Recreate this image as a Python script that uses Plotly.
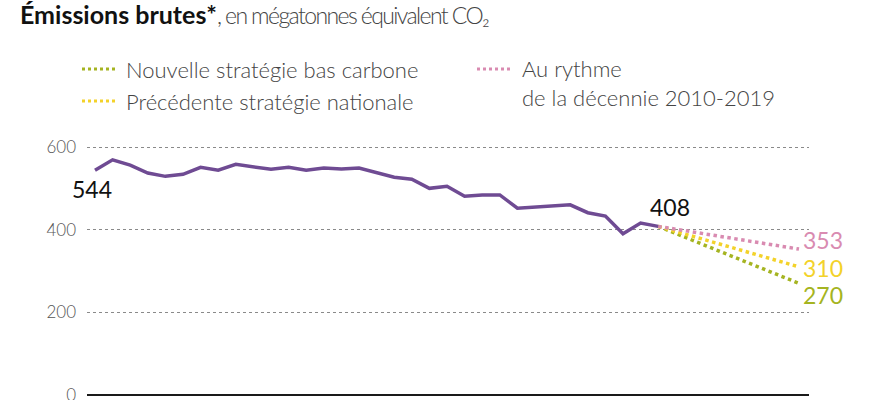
import plotly.graph_objects as go

# ---------------- data ----------------
years = list(range(1990, 2023))
emissions = [544, 569, 556, 537, 529, 534, 551, 544, 558, 551, 546, 551,
             544, 549, 547, 549, 537, 527, 522, 500, 505, 481, 484, 484,
             452, 455, 457, 460, 441, 433, 390, 416, 408]

proj_years = [2022, 2030]
proj_nouvelle = [408, 270]
proj_precedente = [408, 310]
proj_rythme = [408, 353]

legend_labels = ["Nouvelle stratégie bas carbone",
                 "Précédente stratégie nationale",
                 "Au rythme<br>de la décennie 2010-2019"]
y_ticks = [0, 200, 400, 600]

# ---------------- styles ----------------
FONT = "Lato"
PURPLE = "#6f4b93"
PINK = "#d98bb1"
YELLOW = "#f3d22a"
OLIVE = "#a5b421"

W, H = 883, 400
L, R, T, B = 87, 74, 130, 0
PW, PH = W - L - R, H - T - B


def px(x):
    return (x - L) / PW


def py(y):
    return (H - B - y) / PH


fig = go.Figure()

fig.add_trace(go.Scatter(x=proj_years, y=proj_nouvelle, mode="lines",
                         line=dict(color=OLIVE, width=3.5, dash="dot"),
                         showlegend=False, hoverinfo="skip"))
fig.add_trace(go.Scatter(x=proj_years, y=proj_precedente, mode="lines",
                         line=dict(color=YELLOW, width=3.5, dash="dot"),
                         showlegend=False, hoverinfo="skip"))
fig.add_trace(go.Scatter(x=proj_years, y=proj_rythme, mode="lines",
                         line=dict(color=PINK, width=3.5, dash="dot"),
                         showlegend=False, hoverinfo="skip"))
fig.add_trace(go.Scatter(x=years, y=emissions, mode="lines",
                         line=dict(color=PURPLE, width=3.5),
                         showlegend=False))

annotations = []
# title
annotations.append(dict(
    xref="paper", yref="paper", x=px(18), y=py(14), xanchor="left", yanchor="middle",
    text="<b>Émissions brutes*</b><span style='color:#444;font-weight:300;font-size:23px;letter-spacing:-1.6px'>, en mégatonnes équivalent CO₂</span>",
    showarrow=False, font=dict(family=FONT, size=25, color="#111")))

# value labels
annotations.append(dict(x=years[0], y=emissions[0], text=str(emissions[0]), showarrow=False,
                        xshift=-3, yshift=-19, font=dict(family=FONT, size=23, color="#111")))
annotations.append(dict(x=years[-1], y=emissions[-1], text=str(emissions[-1]), showarrow=False,
                        xshift=12, yshift=19, font=dict(family=FONT, size=23, color="#111")))
annotations.append(dict(x=proj_years[-1], y=proj_rythme[-1], text=str(proj_rythme[-1]), showarrow=False,
                        xshift=24, yshift=9, font=dict(family=FONT, size=23, color=PINK)))
annotations.append(dict(x=proj_years[-1], y=proj_precedente[-1], text=str(proj_precedente[-1]), showarrow=False,
                        xshift=24, yshift=-1, font=dict(family=FONT, size=23, color=YELLOW)))
annotations.append(dict(x=proj_years[-1], y=proj_nouvelle[-1], text=str(proj_nouvelle[-1]), showarrow=False,
                        xshift=24, yshift=-12, font=dict(family=FONT, size=23, color=OLIVE)))

# legend (manual)
leg = [(legend_labels[0], OLIVE, 82, 69, 124, 69),
       (legend_labels[1], YELLOW, 82, 101, 124, 101),
       (legend_labels[2], PINK, 477, 69, 520, 83)]
shapes = []
for text, col, sx, sy, tx, ty in leg:
    shapes.append(dict(type="line", xref="paper", yref="paper",
                       x0=px(sx), x1=px(sx + 36), y0=py(sy), y1=py(sy),
                       line=dict(color=col, width=3, dash="dot")))
    annotations.append(dict(xref="paper", yref="paper", x=px(tx), y=py(ty),
                            xanchor="left", yanchor="middle", align="left",
                            text=text, showarrow=False,
                            font=dict(family=FONT, size=22, color="#444", weight=300)))

scale = 248 / 600
ymin = -(H - B - 395) / scale
ymax = (395 - T) / scale
xpx = 17.6
xmin = 1990 - (95 - L) / xpx
xmax = 2030 + (809 - 799) / xpx

fig.update_layout(
    width=W, height=H,
    margin=dict(l=L, r=R, t=T, b=B, pad=0, autoexpand=False),
    paper_bgcolor="white", plot_bgcolor="white",
    font=dict(family=FONT),
    showlegend=False,
    annotations=annotations,
    shapes=shapes,
    xaxis=dict(range=[xmin, xmax], visible=False, fixedrange=True, automargin=False),
    yaxis=dict(range=[ymin, ymax], tickvals=y_ticks, ticktext=[str(v) for v in y_ticks],
               showgrid=True, gridcolor="#8a8a8a", griddash="dot", gridwidth=1,
               zeroline=True, zerolinecolor="#1a1a1a", zerolinewidth=1.5,
               showline=False, ticks="", ticklabelstandoff=10, ticklabeloverflow="allow",
               automargin=False,
               tickfont=dict(family=FONT, size=17, color="#555", weight=300), fixedrange=True),
)

fig.write_html("out.html")
